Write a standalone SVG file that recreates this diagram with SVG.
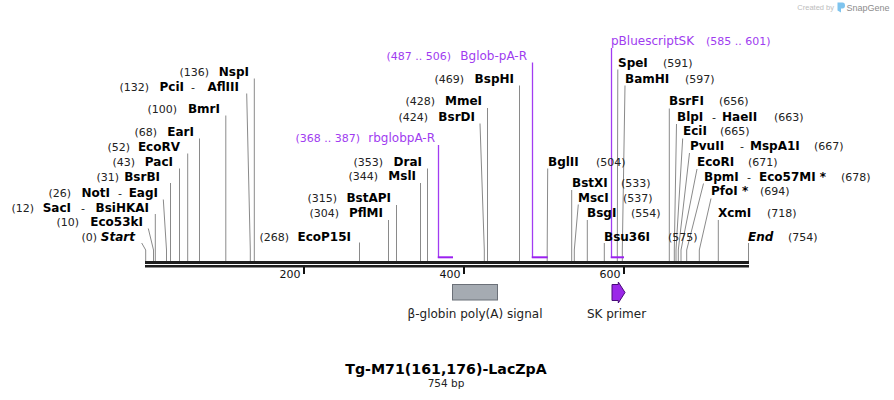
<svg xmlns="http://www.w3.org/2000/svg" width="894" height="400" viewBox="0 0 894 400">
<style>
text{font-family:"DejaVu Sans","Verdana",sans-serif}
.n{font-size:12px;font-weight:bold;fill:#000}
.it{font-style:italic}
.num{font-size:11px;fill:#222}
.d{font-size:11px;fill:#222;text-anchor:middle}
.e{text-anchor:end}
.fn{font-size:12px;fill:#a03cf0}
.fnum{font-size:11px;fill:#a03cf0}
.ld{stroke:#8a8a8a;stroke-width:1;fill:none}
.fv{stroke:#a23cf2;stroke-width:1.3;fill:none}
.fb{stroke:#9b20f0;stroke-width:2;fill:none}
.tk{font-size:11px;fill:#111;text-anchor:end}
.lab{font-size:12px;fill:#222;text-anchor:middle}
</style>
<rect width="894" height="400" fill="#fff"/>

<g id="watermark">
<text x="834" y="10" text-anchor="end" style="font-family:'Liberation Sans',sans-serif;font-size:7.5px;fill:#bdbdbd">Created by</text>
<path d="M837.5 2.5 h5 q2.5 0 2.5 3 q0 3 -2.5 3 h-1.5 v4 l-3.5 -2 z" fill="#7fc4ee"/>
<text x="846.5" y="11" style="font-family:'Liberation Sans',sans-serif;font-size:9px;fill:#8c8c8c">SnapGene</text>
</g>

<g id="backbone">
<rect x="145" y="261" width="604" height="3" fill="#1e1e1e"/>
<rect x="145" y="265" width="604" height="2.5" fill="#1e1e1e"/>
<line x1="304" y1="267" x2="304" y2="274" stroke="#111" stroke-width="2"/>
<line x1="464" y1="267" x2="464" y2="274" stroke="#111" stroke-width="2"/>
<line x1="624" y1="267" x2="624" y2="274" stroke="#111" stroke-width="2"/>
<text class="tk" x="300.5" y="278">200</text>
<text class="tk" x="460.5" y="278">400</text>
<text class="tk" x="620.5" y="278">600</text>
</g>

<g id="connectors">
<polyline class="ld" points="141.7,243 145.7,250 145.7,261"/>
<polyline class="ld" points="148.3,228.5 153.5,250 153.5,261"/>
<polyline class="ld" points="155.3,214 155.3,261"/>
<polyline class="ld" points="163.3,199.5 166.5,250 166.5,261"/>
<polyline class="ld" points="170.5,183 170.5,261"/>
<polyline class="ld" points="179.5,168.5 179.5,261"/>
<polyline class="ld" points="187.7,153.5 187.7,261"/>
<polyline class="ld" points="199.5,138.5 199.5,261"/>
<polyline class="ld" points="225.8,115.5 225.8,261"/>
<polyline class="ld" points="246.7,93.5 250.3,250 250.3,261"/>
<polyline class="ld" points="254.3,78.5 254.3,261"/>
<polyline class="ld" points="359.5,242.5 359.5,261"/>
<polyline class="ld" points="388.5,220 388.5,261"/>
<polyline class="ld" points="396.5,205 396.5,261"/>
<polyline class="ld" points="420.5,183 420.5,261"/>
<polyline class="ld" points="427.5,168.5 427.5,261"/>
<polyline class="ld" points="480,123.5 484.3,250 484.3,261"/>
<polyline class="ld" points="487.5,108 487.5,261"/>
<polyline class="ld" points="519.5,85.5 519.5,261"/>
<polyline class="ld" points="547.7,168.5 547.2,250 547.2,261"/>
<polyline class="ld" points="571.7,190 571.7,261"/>
<polyline class="ld" points="578.3,204.5 574.3,250 574.3,261"/>
<polyline class="ld" points="587.3,220 587.3,261"/>
<polyline class="ld" points="604.3,243 604.3,261"/>
<polyline class="ld" points="617.8,69.5 617.3,250 617.3,261"/>
<polyline class="ld" points="625,85.5 622.3,250 622.3,261"/>
<polyline class="ld" points="669.3,108.5 669.3,261"/>
<polyline class="ld" points="676.5,124 674.3,250 674.3,261"/>
<polyline class="ld" points="682.7,138.5 676,250 676,261"/>
<polyline class="ld" points="689.5,153 678.3,250 678.3,261"/>
<polyline class="ld" points="697,169 681,250 681,261"/>
<polyline class="ld" points="703.5,183.5 686.7,250 686.7,261"/>
<polyline class="ld" points="711,198.5 699.3,250 699.3,261"/>
<polyline class="ld" points="718.3,220 718.3,261"/>
<polyline class="ld" points="748.5,243 748.5,261"/>
<line class="fv" x1="438.5" y1="145" x2="438.5" y2="258"/>
<line class="fb" x1="437.8" y1="257.3" x2="453" y2="257.3"/>
<line class="fv" x1="532.5" y1="62.5" x2="532.5" y2="258"/>
<line class="fb" x1="531.8" y1="257.3" x2="547.7" y2="257.3"/>
<line class="fv" x1="611.5" y1="48" x2="611.5" y2="258"/>
<line class="fb" x1="610.8" y1="257.3" x2="624" y2="257.3"/>
</g>

<g id="start"><text class="num e" x="97" y="240.5">(0)</text><text class="n it e" x="135" y="240.5">Start</text></g>
<g id="eco53ki"><text class="num e" x="79" y="226">(10)</text><text class="n e" x="143" y="226">Eco53kI</text></g>
<g id="saci"><text class="num e" x="34" y="211.5">(12)</text><text class="n e" x="71" y="211.5">SacI</text><text class="d" x="83" y="211.5">-</text><text class="n e" x="149" y="211.5">BsiHKAI</text></g>
<g id="noti"><text class="num e" x="71" y="196.5">(26)</text><text class="n e" x="110" y="196.5">NotI</text><text class="d" x="120" y="196.5">-</text><text class="n e" x="158" y="196.5">EagI</text></g>
<g id="bsrbi"><text class="num e" x="119" y="180.7">(31)</text><text class="n e" x="160" y="180.7">BsrBI</text></g>
<g id="paci"><text class="num e" x="135" y="166">(43)</text><text class="n e" x="173" y="166">PacI</text></g>
<g id="ecorv"><text class="num e" x="130" y="151">(52)</text><text class="n e" x="180" y="151">EcoRV</text></g>
<g id="eari"><text class="num e" x="157" y="136">(68)</text><text class="n e" x="194" y="136">EarI</text></g>
<g id="bmri"><text class="num e" x="177" y="113">(100)</text><text class="n e" x="220" y="113">BmrI</text></g>
<g id="pcii"><text class="num e" x="149" y="91">(132)</text><text class="n e" x="184" y="91">PciI</text><text class="d" x="193" y="91">-</text><text class="n e" x="239" y="91">AflIII</text></g>
<g id="nspi"><text class="num e" x="209" y="76">(136)</text><text class="n e" x="249" y="76">NspI</text></g>
<g id="ecop15i"><text class="num e" x="289" y="240.5">(268)</text><text class="n e" x="351" y="240.5">EcoP15I</text></g>
<g id="pflmi"><text class="num e" x="339" y="217.3">(304)</text><text class="n e" x="383" y="217.3">PflMI</text></g>
<g id="bstapi"><text class="num e" x="337" y="202.3">(315)</text><text class="n e" x="391" y="202.3">BstAPI</text></g>
<g id="msli"><text class="num e" x="378" y="180">(344)</text><text class="n e" x="416" y="180">MslI</text></g>
<g id="drai"><text class="num e" x="383" y="165.7">(353)</text><text class="n e" x="422" y="165.7">DraI</text></g>
<g id="rbglobpa-r"><text class="fnum e" x="360" y="141.7">(368 .. 387)</text><text class="fn e" x="435" y="141.7">rbglobpA-R</text></g>
<g id="bsrdi"><text class="num e" x="428" y="120.7">(424)</text><text class="n e" x="475" y="120.7">BsrDI</text></g>
<g id="mmei"><text class="num e" x="435" y="105">(428)</text><text class="n e" x="482" y="105">MmeI</text></g>
<g id="bsphi"><text class="num e" x="464" y="82.7">(469)</text><text class="n e" x="514" y="82.7">BspHI</text></g>
<g id="bglob-pa-r"><text class="fnum e" x="451" y="60">(487 .. 506)</text><text class="fn e" x="527" y="60">Bglob-pA-R</text></g>
<g id="bglii"><text class="n" x="548" y="166">BglII</text><text class="num" x="596" y="166">(504)</text></g>
<g id="bstxi"><text class="n" x="572" y="187">BstXI</text><text class="num" x="621" y="187">(533)</text></g>
<g id="msci"><text class="n" x="578" y="202">MscI</text><text class="num" x="623" y="202">(537)</text></g>
<g id="bsgi"><text class="n" x="587" y="217">BsgI</text><text class="num" x="631" y="217">(554)</text></g>
<g id="bsu36i"><text class="n" x="604" y="240.5">Bsu36I</text><text class="num" x="668" y="240.5">(575)</text></g>
<g id="pbluescriptsk"><text class="fn" x="611" y="45">pBluescriptSK</text><text class="fnum" x="706" y="45">(585 .. 601)</text></g>
<g id="spei"><text class="n" x="618" y="67">SpeI</text><text class="num" x="663" y="67">(591)</text></g>
<g id="bamhi"><text class="n" x="625" y="82.7">BamHI</text><text class="num" x="685" y="82.7">(597)</text></g>
<g id="bsrfi"><text class="n" x="669" y="105">BsrFI</text><text class="num" x="719" y="105">(656)</text></g>
<g id="blpi"><text class="n" x="677" y="120.7">BlpI</text><text class="d" x="714" y="120.7">-</text><text class="n" x="722" y="120.7">HaeII</text><text class="num" x="774" y="120.7">(663)</text></g>
<g id="ecii"><text class="n" x="683" y="135">EciI</text><text class="num" x="720" y="135">(665)</text></g>
<g id="pvuii"><text class="n" x="690" y="150">PvuII</text><text class="d" x="742" y="150">-</text><text class="n" x="750" y="150">MspA1I</text><text class="num" x="814" y="150">(667)</text></g>
<g id="ecori"><text class="n" x="697" y="166">EcoRI</text><text class="num" x="748" y="166">(671)</text></g>
<g id="bpmi"><text class="n" x="704" y="180.7">BpmI</text><text class="d" x="749" y="180.7">-</text><text class="n" x="759" y="180.7">Eco57MI *</text><text class="num" x="841" y="180.7">(678)</text></g>
<g id="pfoi"><text class="n" x="711" y="195">PfoI *</text><text class="num" x="760" y="195">(694)</text></g>
<g id="xcmi"><text class="n" x="718" y="217">XcmI</text><text class="num" x="767" y="217">(718)</text></g>
<g id="end"><text class="n it" x="748" y="240.5">End</text><text class="num" x="788" y="240.5">(754)</text></g>

<g id="beta-globin-polya">
<rect x="452.5" y="284.5" width="45" height="15.5" fill="#a5abb2" stroke="#6b7078" stroke-width="1"/>
<text class="lab" x="475" y="318.3">β-globin poly(A) signal</text>
</g>
<g id="sk-primer">
<polygon points="612,284.5 618.3,284.5 618.3,282 625,292.5 618.3,303 618.3,300.5 612,300.5" fill="#9b27e8" stroke="#4a0a7a" stroke-width="1"/>
<text class="lab" x="616.5" y="318.3">SK primer</text>
</g>

<g id="title">
<text x="446" y="374" text-anchor="middle" style="font-size:14.2px;font-weight:bold;fill:#000">Tg-M71(161,176)-LacZpA</text>
<text x="446" y="386.7" text-anchor="middle" style="font-size:10.5px;fill:#222">754 bp</text>
</g>
</svg>
